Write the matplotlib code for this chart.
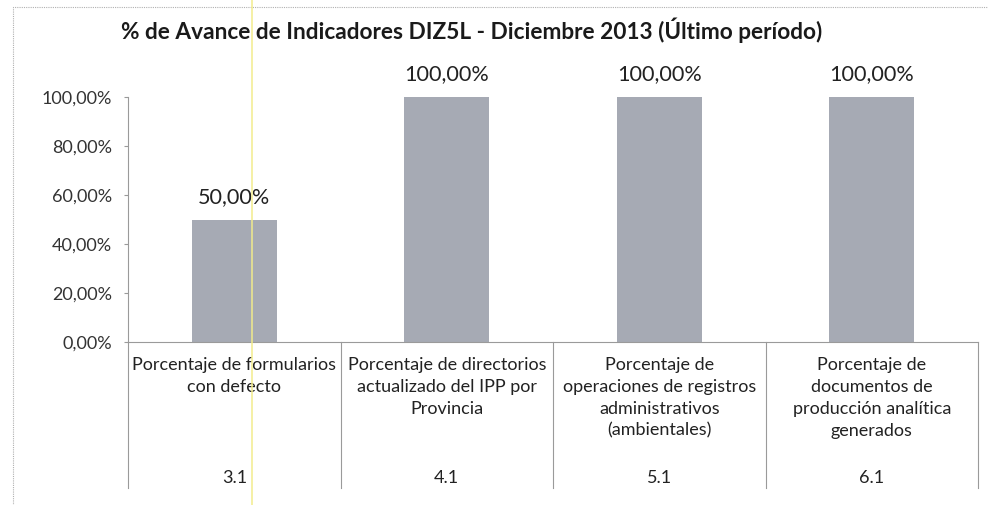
import matplotlib
matplotlib.use("Agg")
import matplotlib.pyplot as plt
from matplotlib.lines import Line2D
from matplotlib.patches import Rectangle

plt.rcParams['font.family'] = ['Lato', 'DejaVu Sans']

categories = [
    "Porcentaje de formularios\ncon defecto",
    "Porcentaje de directorios\nactualizado del IPP por\nProvincia",
    "Porcentaje de\noperaciones de registros\nadministrativos\n(ambientales)",
    "Porcentaje de\ndocumentos de\nproducción analítica\ngenerados",
]
codes = ["3.1", "4.1", "5.1", "6.1"]
values = [0.50, 1.00, 1.00, 1.00]
yticks = [0.0, 0.2, 0.4, 0.6, 0.8, 1.0]
title = "% de Avance de Indicadores DIZ5L - Diciembre 2013 (Último período)"

W, H = 988, 505
fig = plt.figure(figsize=(W / 100, H / 100), dpi=100)
fig.patch.set_facecolor("white")

# axes placement in pixels
x0, x1 = 128, 978
y_top, y_zero = 97, 342
ax = fig.add_axes([x0 / W, (H - y_zero) / H, (x1 - x0) / W, (y_zero - y_top) / H])

xs = list(range(len(values)))
ax.bar(xs, values, width=0.40, color="#a6aab4", zorder=2)
ax.set_xlim(-0.5, len(values) - 0.5)
ax.set_ylim(0, 1.0)

def pct(v):
    return f"{v*100:.2f}".replace(".", ",") + "%"

for x, v in zip(xs, values):
    ax.annotate(pct(v), (x, v), xytext=(0, 9), textcoords="offset points",
                ha="center", va="bottom", fontsize=15.6, color="#222222",
                annotation_clip=False)

ax.set_yticks(yticks)
ax.set_yticklabels([pct(t) for t in yticks], fontsize=13, color="#333333")
ax.tick_params(axis="y", length=3, width=0.8, color="#9a9a9a", pad=8.5)
ax.set_xticks([])

for s in ["top", "right"]:
    ax.spines[s].set_visible(False)
ax.spines["left"].set_color("#9a9a9a")
ax.spines["left"].set_linewidth(0.8)
ax.spines["bottom"].set_color("#9a9a9a")
ax.spines["bottom"].set_linewidth(0.8)

# multi-level category labels
trans = ax.get_xaxis_transform()
hax = y_zero - y_top
for x, lab, code in zip(xs, categories, codes):
    ax.text(x, -(357 - y_zero) / hax, lab, transform=trans, ha="center", va="top",
            fontsize=13, color="#222222", linespacing=1.45, clip_on=False)
    ax.text(x, -(478 - y_zero) / hax, code, transform=trans, ha="center", va="center",
            fontsize=13, color="#222222", clip_on=False)

for b in [i - 0.5 for i in range(len(values) + 1)]:
    ax.plot([b, b], [0, -(488 - y_zero) / hax], transform=trans, color="#9a9a9a",
            lw=0.8, clip_on=False)

# title
fig.text(472 / W, 1 - 30 / H, title, ha="center", va="center",
         fontsize=16.3, fontweight="bold", color="#1a1a1a")

# chart area border
fig.add_artist(Rectangle((13 / W, -0.05), 1.2, 1 - 7 / H + 0.05, transform=fig.transFigure,
                         fill=False, edgecolor="#b0b0b0", lw=0.8, linestyle=(0, (1, 1))))

# highlighter mark from the scan
fig.add_artist(Line2D([252 / W, 252 / W], [0, 1], transform=fig.transFigure,
                      color="#f3ec8a", lw=1.2, alpha=0.9))

fig.savefig("out.png", dpi=100, facecolor="white")
